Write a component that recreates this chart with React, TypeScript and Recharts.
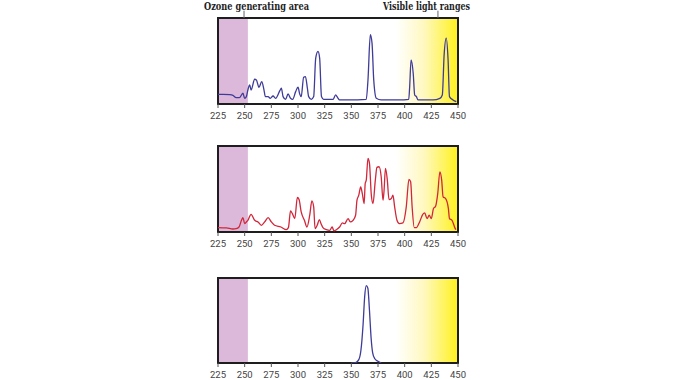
import React from 'react';
import { LineChart, Line, XAxis, YAxis, ReferenceArea, ReferenceLine } from 'recharts';

// Wavelength ticks (nm)
const wavelengthTicks = [225, 250, 275, 300, 325, 350, 375, 400, 425, 450];

// Highlighted ranges (nm)
const ozoneRange = [225, 253];
const visibleRange = [392, 450];

// Leader-line positions (nm) for the annotations
const ozoneLeaderAt = 249.4;
const visibleLeaderAt = 431.2;

// Panel 1 spectrum: [wavelength nm, relative intensity %]
const spectrumTop: [number, number][] = [
  [225, 11.3], [229.7, 11.3], [236, 10.9], [239, 10.1], [242, 7.4], [245, 7.4], [248.4, 12.5],
  [250, 6.6], [251.6, 8.6], [253, 16.3], [254.7, 22.2], [256, 16.3], [259.4, 28.8], [261, 28],
  [263.4, 19.5], [266, 26], [268, 17.1], [269.4, 8.6], [272, 8.6], [274, 6.6], [276.6, 9.3],
  [279, 6.6], [283, 15.6], [284.4, 18.3], [286, 8.6], [288.4, 5.4], [290.7, 11.7], [293, 6.6],
  [295, 5.4], [297.8, 14.4], [300, 19.5], [301.6, 11.7], [303, 8.6], [305.3, 31.1], [307, 31.9],
  [308.8, 18.3], [310, 8.6], [312.5, 5.4], [314.7, 8.6], [316.6, 53.3], [318.75, 61.1],
  [320.3, 53.3], [322, 8.6], [324, 5.4], [332.8, 5.4], [335.3, 10.5], [337, 7.8], [339, 4.7],
  [348, 4.7], [364, 5.4], [365.6, 28], [367.8, 80.5], [369.4, 70.8], [371, 28], [373.4, 6.6],
  [378, 4.7], [395, 4.7], [403.8, 5.4], [404.7, 20.2], [406, 51.4], [408, 35.8], [409.4, 10.5],
  [411, 8.6], [412.5, 4.7], [426.6, 4.7], [433, 6.6], [435.3, 10.5], [437, 57.2], [439, 76.7],
  [440.7, 51.4], [442, 8.6], [445.3, 4.7], [448.4, 2.7],
];

// Panel 2 spectrum
const spectrumMiddle: [number, number][] = [
  [225, 5.1], [233, 4.7], [239, 3.5], [242, 3.9], [244.7, 5.8], [247, 13.6], [248.4, 16.7],
  [250, 9.7], [251.6, 11.7], [253, 13.6], [256, 20.6], [259.4, 13.6], [262.5, 11.7], [265.6, 7.8],
  [268.75, 11.7], [272, 16.7], [275, 11.7], [278, 7.8], [284, 5.8], [289, 2.7], [291, 5.1],
  [293, 24.5], [294.7, 21.4], [297, 15.6], [299.4, 40.1], [301, 37.7], [303, 23.3], [306, 13.6],
  [308.4, 5.8], [311, 19.5], [313, 36.2], [314.7, 29.2], [316, 3.9], [318, 7.8], [320, 14.4],
  [321.6, 9.7], [323.4, 5.1], [326.6, 2.7], [329.7, 1.9], [332, 5.8], [333.75, 1.2], [336, 2.7],
  [339, 5.8], [341.6, 10.5], [343.75, 9.7], [347, 15.6], [349, 11.7], [351.6, 13.6], [354, 19.5],
  [355.3, 37], [357, 42.8], [358.75, 52.5], [360.3, 44.7], [362, 33.1], [363, 56.4], [364, 60.3],
  [365.6, 85.6], [367, 79.8], [368.75, 42.8], [370.3, 33.1], [372.5, 60.3], [374, 75.1],
  [376, 75.9], [378, 64.2], [379.7, 37], [380.6, 46.7], [382, 73.9], [383.75, 60.3], [385.3, 37.7],
  [387.5, 38.9], [389, 42.8], [390.6, 29.2], [392.8, 13.6], [395, 9.7], [398.4, 10.5],
  [401.5, 29.2], [404, 61.1], [405.6, 58.4], [407, 29.2], [409, 5.1], [411, 5.1], [414, 11.7],
  [417, 20.6], [418.75, 22.2], [421, 15.6], [423, 19.5], [425, 15.6], [427, 27.2], [429, 30],
  [431, 44.7], [433, 70], [434.7, 60.3], [436, 40.9], [438.4, 38.9], [441, 27.2], [442, 15.6],
  [444.4, 13.6], [447, 5.1], [448, 2.7],
];

// Panel 3 spectrum (single narrow emission band)
const spectrumBottom: [number, number][] = [
  [350, 0], [354, 0.5], [357, 4], [359, 15], [361, 45], [362.5, 78], [364, 91], [365.5, 88],
  [367, 62], [368.5, 30], [370, 12], [372, 5], [375, 2], [378, 0],
];

const toRows = (pairs: [number, number][]) => pairs.map(([nm, v]) => ({ nm, v }));

type PanelProps = {
  pairs: [number, number][];
  color: string;
  top: number;
  plotHeight: number;
  gid: string;
  leaders?: boolean;
};

function Panel({ pairs, color, top, plotHeight, gid, leaders }: PanelProps) {
  const marginTop = 18;
  const axisH = 20;
  const marginBottom = 6;
  const height = marginTop + plotHeight + axisH + marginBottom;
  return (
    <div style={{ position: 'absolute', left: 0, top }}>
      <LineChart
        width={680}
        height={height}
        data={toRows(pairs)}
        margin={{ top: marginTop, right: 222, bottom: marginBottom, left: 218 }}
      >
        <defs>
          <linearGradient id={gid} x1="0" y1="0" x2="1" y2="0">
            <stop offset="0%" stopColor="#ffffff" />
            <stop offset="45%" stopColor="#fff8c0" />
            <stop offset="100%" stopColor="#fff11c" />
          </linearGradient>
        </defs>
        <XAxis
          dataKey="nm"
          type="number"
          domain={[225, 450]}
          ticks={wavelengthTicks}
          allowDataOverflow
          height={axisH}
          axisLine={false}
          tickLine={{ stroke: '#555', strokeWidth: 1 }}
          tickSize={4}
          tickMargin={4}
          tick={{ fontSize: 9.5, fill: '#444', fontFamily: 'Roboto, sans-serif' }}
          interval={0}
        />
        <YAxis type="number" domain={[0, 100]} hide allowDataOverflow />
        <ReferenceArea x1={ozoneRange[0]} x2={ozoneRange[1]} fill="#dcb9da" fillOpacity={1} stroke="none" ifOverflow="hidden" />
        <ReferenceArea x1={visibleRange[0]} x2={visibleRange[1]} fill={`url(#${gid})`} fillOpacity={1} stroke="none" ifOverflow="hidden" />
        <Line
          type="monotone"
          dataKey="v"
          stroke={color}
          strokeWidth={1.3}
          dot={false}
          activeDot={false}
          isAnimationActive={false}
        />
        <ReferenceArea x1={225} x2={450} fill="none" fillOpacity={0} stroke="#1e1e1e" strokeWidth={2} ifOverflow="visible" />
        {leaders && (
          <ReferenceLine
            segment={[{ x: ozoneLeaderAt, y: 100 }, { x: ozoneLeaderAt, y: 108.5 }]}
            stroke="#666"
            strokeWidth={1}
            ifOverflow="visible"
          />
        )}
        {leaders && (
          <ReferenceLine
            segment={[{ x: visibleLeaderAt, y: 100 }, { x: visibleLeaderAt, y: 108.5 }]}
            stroke="#666"
            strokeWidth={1}
            ifOverflow="visible"
          />
        )}
      </LineChart>
    </div>
  );
}

export default function App() {
  return (
    <div style={{ position: 'absolute', left: 0, top: 0, width: 680, height: 380, background: '#fff', overflow: 'hidden' }}>
      <svg width={680} height={14} style={{ position: 'absolute', left: 0, top: 0 }}>
        <text x={204} y={9.5} fontFamily="'DejaVu Serif', serif" fontWeight="bold" fontSize={11.5} fill="#1e1e1e" textLength={105} lengthAdjust="spacingAndGlyphs">
          Ozone generating area
        </text>
        <text x={383} y={9.5} fontFamily="'DejaVu Serif', serif" fontWeight="bold" fontSize={11.5} fill="#1e1e1e" textLength={87} lengthAdjust="spacingAndGlyphs">
          Visible light ranges
        </text>
      </svg>
      <Panel pairs={spectrumTop} color="#3f3c98" top={0} plotHeight={86} gid="vis1" leaders />
      <Panel pairs={spectrumMiddle} color="#d0273a" top={128} plotHeight={86} gid="vis2" />
      <Panel pairs={spectrumBottom} color="#3f3c98" top={260} plotHeight={85} gid="vis3" />
    </div>
  );
}
